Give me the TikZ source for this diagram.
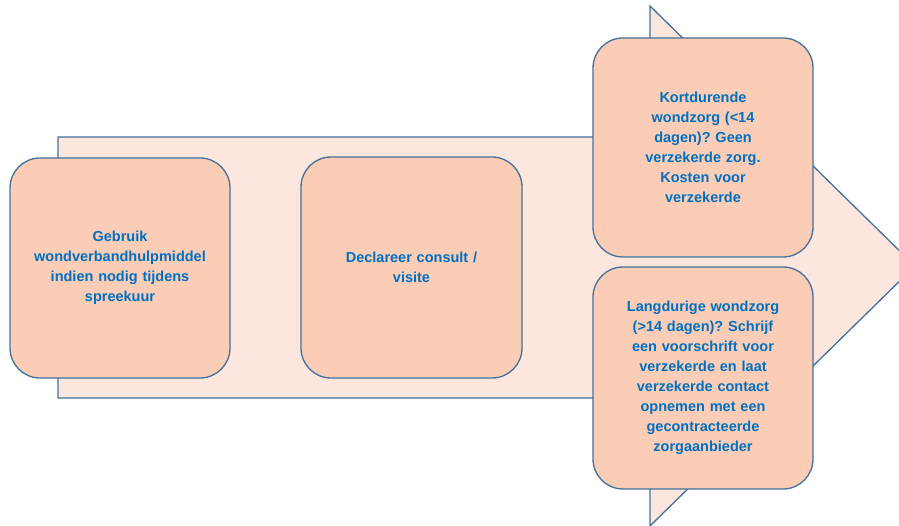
\documentclass[tikz,border=0pt]{standalone}
\usepackage{fontspec}
\setmainfont{Liberation Sans}
\frenchspacing
\definecolor{boxfill}{HTML}{FBCDB7}
\definecolor{arrowfill}{HTML}{FCE6DD}
\definecolor{edgeblue}{HTML}{41719C}
\definecolor{textblue}{HTML}{0070C0}
\tikzset{
  stepbox/.style={draw=edgeblue, line width=1.3pt, fill=boxfill, rounded corners=30pt,
    minimum width=220pt, minimum height=220pt, text width=190pt, align=center,
    text=textblue, font=\bfseries\fontsize{14.5}{20}\selectfont\frenchspacing, inner sep=0pt},
  bigarrow/.style={draw=edgeblue, line width=1.3pt, fill=arrowfill}
}
\begin{document}
\begin{tikzpicture}[x=1pt,y=-1pt]
\useasboundingbox (0,0) rectangle (899,526);
\clip (0,0) rectangle (899,526);
\draw[bigarrow] (58,137) -- (650,137) -- (650,6) -- (915,266) -- (650,526) -- (650,398) -- (58,398) -- cycle;
\node[stepbox] (b1) at (120,268) {Gebruik\\ wondverbandhulpmiddel\\ indien nodig tijdens\\ spreekuur};
\node[stepbox, minimum width=221pt, minimum height=221pt] (b2) at (411.5,267.5) {Declareer consult /\\ visite};
\node[stepbox, minimum height=219pt] (b3) at (703,147.5) {Kortdurende\\ wondzorg (<14\\ dagen)? Geen\\ verzekerde zorg.\\ Kosten voor\\ verzekerde};
\node[stepbox, minimum height=222pt] (b4) at (703,378) {Langdurige wondzorg\\ (>14 dagen)? Schrijf\\ een voorschrift voor\\ verzekerde en laat\\ verzekerde contact\\ opnemen met een\\ gecontracteerde\\ zorgaanbieder};
\end{tikzpicture}
\end{document}
